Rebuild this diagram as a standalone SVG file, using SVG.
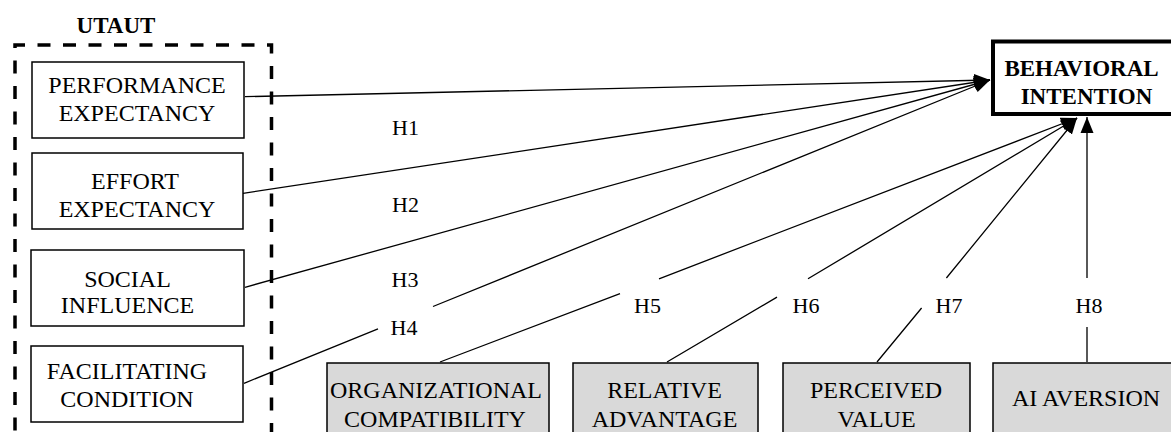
<svg xmlns="http://www.w3.org/2000/svg" width="1171" height="432" viewBox="0 0 1171 432" font-family="'Liberation Serif', 'Times New Roman', serif">
<style>
  text { font-family: "Liberation Serif", "Times New Roman", serif; fill: #000; }
  .t { font-size: 24px; text-anchor: middle; }
  .b { font-size: 23px; font-weight: bold; text-anchor: middle; }
  .h { font-size: 22px; text-anchor: middle; }
  .box { fill: #fff; stroke: #000; stroke-width: 1.5; }
  .gbox { fill: #d9d9d9; stroke: #000; stroke-width: 1.5; }
  .ln { fill: none; stroke: #000; stroke-width: 1.3; }
</style>
<defs>
  <marker id="arr" markerUnits="userSpaceOnUse" markerWidth="17" markerHeight="14" refX="16" refY="7" orient="auto">
    <path d="M0,0.5 L16,7 L0,13.5 z" fill="#000"/>
  </marker>
</defs>
<rect width="1171" height="432" fill="#fff"/>

<g id="utaut-group">
  <text class="b" x="116" y="33">UTAUT</text>
  <path d="M15,450 V45 H271.5 V450" fill="none" stroke="#000" stroke-width="3.5" stroke-dasharray="13 12.5" stroke-dashoffset="6"/>
</g>

<g id="connectors">
  <path class="ln" d="M245,96.7 L990,80" marker-end="url(#arr)"/>
  <path class="ln" d="M243,193.3 L990,80" marker-end="url(#arr)"/>
  <path class="ln" d="M245,287.3 L990,80" marker-end="url(#arr)"/>
  <path class="ln" d="M244,383.3 L378,328.8 M433,306.5 L990,80" marker-end="url(#arr)"/>
  <path class="ln" d="M440,362 L620,293.6 M659,278.8 L1077,118" marker-end="url(#arr)"/>
  <path class="ln" d="M667,362 L777,297.1 M808,278.8 L1077,118" marker-end="url(#arr)"/>
  <path class="ln" d="M877,362 L921.6,308 M946.4,278 L1077,118" marker-end="url(#arr)"/>
  <path class="ln" d="M1087,362 L1087,327 M1087,278 L1087,117" marker-end="url(#arr)"/>
</g>

<g id="labels">
  <text class="h" x="405.5" y="135">H1</text>
  <text class="h" x="405.5" y="212">H2</text>
  <text class="h" x="405" y="287">H3</text>
  <text class="h" x="404" y="335">H4</text>
  <text class="h" x="647.5" y="313">H5</text>
  <text class="h" x="806" y="313">H6</text>
  <text class="h" x="949" y="313">H7</text>
  <text class="h" x="1089" y="313">H8</text>
</g>

<g id="performance-expectancy">
  <rect class="box" x="32" y="62" width="212" height="76"/>
  <text class="t" x="137" y="93">PERFORMANCE</text>
  <text class="t" x="137" y="121">EXPECTANCY</text>
</g>
<g id="effort-expectancy">
  <rect class="box" x="32" y="153" width="211" height="76"/>
  <text class="t" x="135" y="189">EFFORT</text>
  <text class="t" x="137" y="217">EXPECTANCY</text>
</g>
<g id="social-influence">
  <rect class="box" x="31" y="250" width="213" height="76"/>
  <text class="t" x="127.5" y="286.5">SOCIAL</text>
  <text class="t" x="127.5" y="313">INFLUENCE</text>
</g>
<g id="facilitating-condition">
  <rect class="box" x="31" y="346" width="212" height="76"/>
  <text class="t" x="127" y="379">FACILITATING</text>
  <text class="t" x="127" y="406.5">CONDITION</text>
</g>

<g id="behavioral-intention">
  <rect x="993" y="41.5" width="200" height="72.5" fill="#fff" stroke="#000" stroke-width="4"/>
  <text class="b" x="1081.5" y="76">BEHAVIORAL</text>
  <text class="b" x="1086.5" y="104">INTENTION</text>
</g>

<g id="organizational-compatibility">
  <rect class="gbox" x="327" y="363" width="222" height="80"/>
  <text class="t" x="436" y="398">ORGANIZATIONAL</text>
  <text class="t" x="435" y="427">COMPATIBILITY</text>
</g>
<g id="relative-advantage">
  <rect class="gbox" x="573" y="363" width="185" height="80"/>
  <text class="t" x="664.5" y="398">RELATIVE</text>
  <text class="t" x="664.5" y="427">ADVANTAGE</text>
</g>
<g id="perceived-value">
  <rect class="gbox" x="783" y="363" width="187" height="80"/>
  <text class="t" x="876" y="398">PERCEIVED</text>
  <text class="t" x="876.5" y="427">VALUE</text>
</g>
<g id="ai-aversion">
  <rect class="gbox" x="993" y="363" width="190" height="80"/>
  <text class="t" x="1086" y="406">AI AVERSION</text>
</g>
</svg>
